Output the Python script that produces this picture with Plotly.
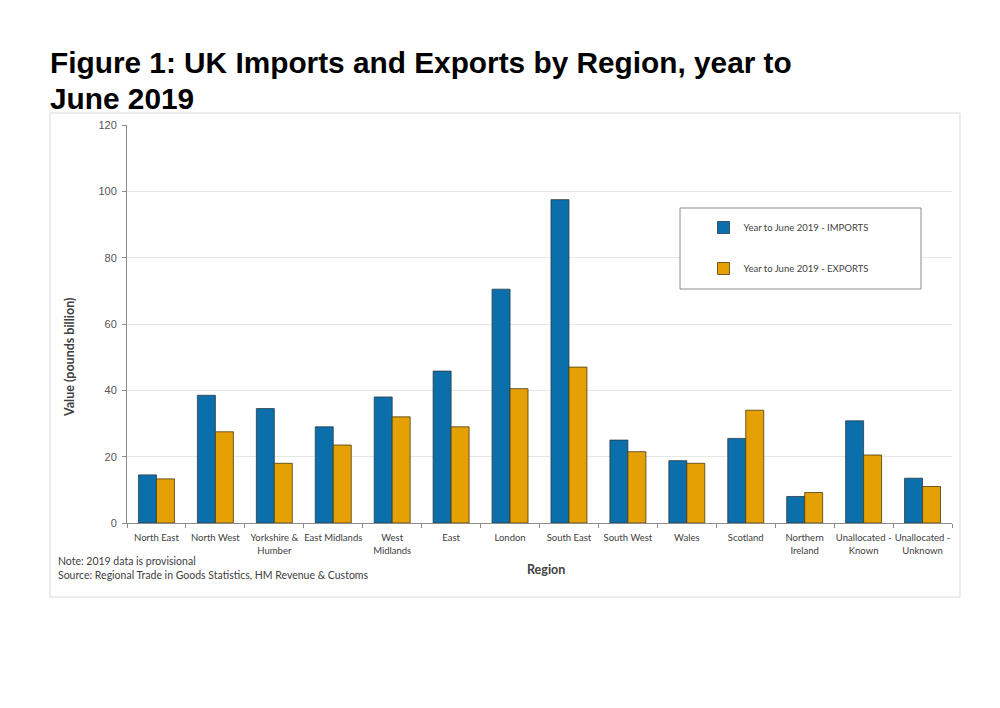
import plotly.graph_objects as go

# Values in pounds billion
regions = ['North East', 'North West', 'Yorkshire &<br>Humber', 'East Midlands', 'West<br>Midlands',
           'East', 'London', 'South East', 'South West', 'Wales', 'Scotland', 'Northern<br>Ireland',
           'Unallocated -<br>Known', 'Unallocated -<br>Unknown']
imports_2019 = [14.5, 38.5, 34.5, 29, 38, 45.8, 70.5, 97.5, 25, 18.8, 25.5, 8, 30.8, 13.5]
exports_2019 = [13.3, 27.5, 18, 23.5, 32, 29, 40.5, 47, 21.5, 18, 34, 9.2, 20.5, 11]
y_ticks = [0, 20, 40, 60, 80, 100, 120]

# the page has an 8px body margin, so the figure is 16px smaller than the window
PAGE = 8
W, H = 1000 - 2 * PAGE, 708 - 2 * PAGE
L, R, T, B = 127, 952, 125, 523
BODY = 'Lato, "Open Sans", sans-serif'
TITLE = dict(family='Liberation Sans', size=29.8, color='#000000', weight='bold')
GREY = '#404040'

# window pixel -> paper coordinates
def px_x(x):
    return (x - L) / (R - L)

def px_y(y):
    return (B - y) / (B - T)

def box(x0, y0, x1, y1, line, fill='rgba(0,0,0,0)'):
    return dict(type='rect', xref='paper', yref='paper', x0=px_x(x0), x1=px_x(x1), y0=px_y(y0), y1=px_y(y1),
                line=dict(color=line, width=1), fillcolor=fill, layer='above')

def label(text, x, y, font, xanchor='center', yanchor='middle', align='center', angle=0):
    return dict(text=text, xref='paper', yref='paper', x=px_x(x), y=px_y(y), xanchor=xanchor, yanchor=yanchor,
                align=align, showarrow=False, textangle=angle, font=font)

fig = go.Figure()
fig.add_bar(x=regions, y=imports_2019, name='Year to June 2019 - IMPORTS', legendgroup='imports',
            marker=dict(color='#0A6FAB', line=dict(color='#2B3A42', width=0.8)))
fig.add_bar(x=regions, y=exports_2019, name='Year to June 2019 - EXPORTS', legendgroup='exports',
            marker=dict(color='#E5A104', line=dict(color='#4A3A10', width=0.8)))

fig.update_layout(
    width=W, height=H, autosize=False,
    margin=dict(l=L - PAGE, r=W + PAGE - R, t=T - PAGE, b=H + PAGE - B),
    paper_bgcolor='white', plot_bgcolor='white',
    barmode='group', bargap=0.39, bargroupgap=0,
    font=dict(family=BODY, color=GREY, size=10),
    title=dict(text='Figure 1: UK Imports and Exports by Region, year to',
               x=(50 - PAGE) / W, xref='container', xanchor='left',
               y=1 - (63 - PAGE) / H, yref='container', yanchor='middle', font=TITLE),
    legend=dict(x=px_x(789), y=px_y(248), xanchor='center', yanchor='middle', bgcolor='rgba(0,0,0,0)',
                tracegroupgap=22, traceorder='grouped', font=dict(family=BODY, size=9.5, color=GREY)),
    shapes=[box(50, 113, 960, 597, '#D9D9D9'), box(680, 208, 921, 289, '#8C8C8C', 'white')],
    annotations=[
        label('June 2019', 48, 98, TITLE, xanchor='left'),
        label('Note: 2019 data is provisional<br>Source: Regional Trade in Goods Statistics, HM Revenue & Customs',
              56, 553, dict(family=BODY, size=10.5, color=GREY), xanchor='left', yanchor='top', align='left'),
        label('<b>Region</b>', 546, 569, dict(family=BODY, size=12.5, color=GREY)),
        label('<b>Value (pounds billion)</b>', 69, 358, dict(family=BODY, size=12.5, color=GREY), angle=-90),
    ],
)
fig.update_xaxes(tickson='boundaries', ticks='outside', ticklen=4, tickcolor='#8C8C8C', ticklabelstandoff=6,
                 showline=True, linecolor='#8C8C8C', showgrid=False, tickangle=0,
                 tickfont=dict(size=9.5, family=BODY, color=GREY))
fig.update_yaxes(range=[0, 120], tickvals=y_ticks, ticks='outside', ticklen=4, tickcolor='#8C8C8C',
                 ticklabelstandoff=3, showline=True, linecolor='#8C8C8C', gridcolor='#E6E6E6', zeroline=False,
                 tickfont=dict(size=11, family='Liberation Sans', color='#555555'))

fig.write_html("out.html")
